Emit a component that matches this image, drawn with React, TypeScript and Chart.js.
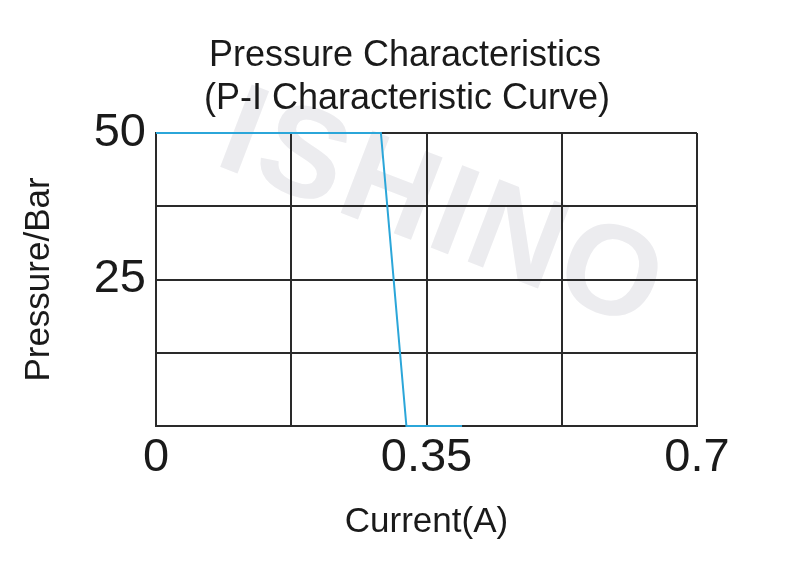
import React, { useEffect, useRef } from "react";
import { Chart, registerables } from "chart.js";

Chart.register(...registerables);

const titleLines = ["Pressure Characteristics", "(P-I Characteristic Curve)"];
const xAxisTitle = "Current(A)";
const yAxisTitle = "Pressure/Bar";
const watermarkText = "ISHINO";

const currentValues = [0, 0.291, 0.324, 0.396];
const pressureValues = [50, 50, 0, 0];

const xTickValues = [0, 0.175, 0.35, 0.525, 0.7];
const xTickLabels = ["0", "", "0.35", "", "0.7"];
const yTickValues = [0, 12.5, 25, 37.5, 50];
const yTickLabels = ["", "", "25", "", "50"];

const FONT = "'Liberation Sans', Arial, Helvetica, sans-serif";

const decorPlugin = {
  id: "decor",
  beforeDraw(chart: any) {
    const ctx = chart.ctx;
    ctx.save();
    ctx.fillStyle = "#ffffff";
    ctx.fillRect(0, 0, chart.width, chart.height);
    // watermark
    ctx.translate(442, 214);
    ctx.rotate((21 * Math.PI) / 180);
    ctx.font = `bold 128px ${FONT}`;
    ctx.fillStyle = "#ececef";
    ctx.textAlign = "center";
    ctx.textBaseline = "middle";
    try {
      (ctx as any).letterSpacing = "4px";
    } catch (e) {}
    ctx.fillText(watermarkText, 0, 0);
    ctx.restore();

    ctx.save();
    try {
      (ctx as any).letterSpacing = "0px";
    } catch (e) {}
    ctx.font = `36px ${FONT}`;
    ctx.fillStyle = "#1a1a1a";
    ctx.textAlign = "center";
    ctx.textBaseline = "middle";
    ctx.fillText(titleLines[0], 405, 56);
    ctx.fillText(titleLines[1], 407, 99);
    ctx.restore();
  },
};

export default function App() {
  const canvasRef = useRef<HTMLCanvasElement | null>(null);

  useEffect(() => {
    if (!canvasRef.current) return;
    const data = currentValues.map((x, i) => ({ x, y: pressureValues[i] }));
    const chart = new Chart(canvasRef.current, {
      type: "line",
      data: {
        datasets: [
          {
            data,
            borderColor: "#2ba6d9",
            borderWidth: 2,
            pointRadius: 0,
            fill: false,
            tension: 0,
            clip: false,
          } as any,
        ],
      },
      options: {
        animation: false,
        responsive: true,
        maintainAspectRatio: false,
        layout: { padding: { top: 133, right: 103, left: 0, bottom: 0 } },
        plugins: {
          legend: { display: false },
          title: { display: false },
          tooltip: { enabled: false },
        },
        scales: {
          x: {
            type: "linear",
            min: 0,
            max: 0.7,
            afterBuildTicks: (scale: any) => {
              scale.ticks = xTickValues.map((v) => ({ value: v }));
            },
            afterFit: (scale: any) => {
              scale.height = 143;
            },
            grid: {
              color: "#2a2a2a",
              lineWidth: 2,
              drawTicks: false,
            },
            border: { display: true, color: "#2a2a2a", width: 2 },
            ticks: {
              autoSkip: false,
              maxRotation: 0,
              padding: 4,
              color: "#1a1a1a",
              font: { family: FONT, size: 47 },
              callback: (_v: any, i: number) => xTickLabels[i],
            },
            title: {
              display: true,
              text: xAxisTitle,
              color: "#1a1a1a",
              font: { family: FONT, size: 35 },
              padding: { top: 0, bottom: 26 },
            },
          },
          y: {
            type: "linear",
            min: 0,
            max: 50,
            afterBuildTicks: (scale: any) => {
              scale.ticks = yTickValues.map((v) => ({ value: v }));
            },
            afterFit: (scale: any) => {
              scale.width = 156;
            },
            grid: {
              color: "#2a2a2a",
              lineWidth: 2,
              drawTicks: false,
            },
            border: { display: true, color: "#2a2a2a", width: 2 },
            ticks: {
              autoSkip: false,
              padding: 10,
              color: "#1a1a1a",
              font: { family: FONT, size: 47 },
              callback: (_v: any, i: number) => yTickLabels[i],
            },
            title: {
              display: true,
              text: yAxisTitle,
              color: "#1a1a1a",
              font: { family: FONT, size: 35 },
              padding: { top: 18, bottom: 0 },
            },
          },
        },
      },
      plugins: [decorPlugin],
    });
    return () => chart.destroy();
  }, []);

  return (
    <div style={{ position: "fixed", left: 0, top: 0, width: 800, height: 569, background: "#fff" }}>
      <canvas ref={canvasRef} />
    </div>
  );
}
